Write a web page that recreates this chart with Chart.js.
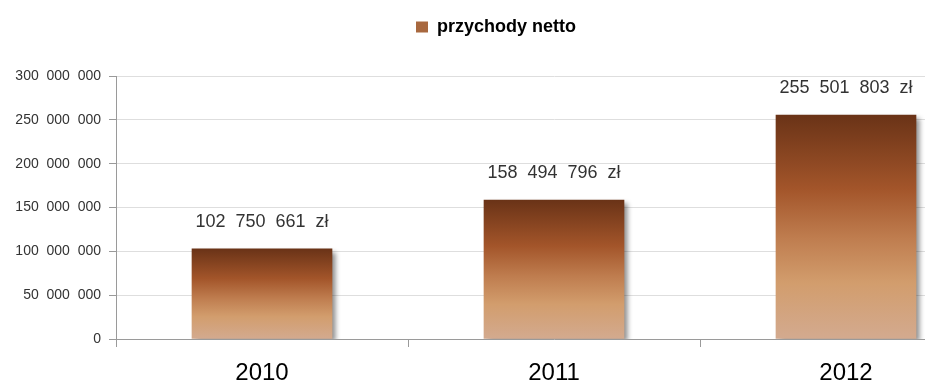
<!DOCTYPE html>
<html>
<head>
<meta charset="utf-8">
<script src="https://cdn.jsdelivr.net/npm/chart.js@4/dist/chart.umd.min.js"></script>
<style>
  html, body { margin: 0; padding: 0; background: #fff; overflow: hidden; }
  #wrap { width: 1000px; height: 387px; }
</style>
</head>
<body>
<div id="wrap"><canvas id="c" width="1000" height="387"></canvas></div>
<script>
const categories = ['2010', '2011', '2012'];
const seriesName = 'przychody netto';
const revenue = [102750661, 158494796, 255501803];
const valueLabels = ['102  750  661  zł', '158  494  796  zł', '255  501  803  zł'];
const yTicks = [0, 50000000, 100000000, 150000000, 200000000, 250000000, 300000000];

function fmt(v) {
  return String(v).replace(/\B(?=(\d{3})+(?!\d))/g, '  ');
}

function barGradient(ctx) {
  const chart = ctx.chart;
  if (!chart.chartArea || ctx.type !== 'data') return '#b06a3c';
  const y = chart.scales.y;
  const top = y.getPixelForValue(ctx.raw);
  const bottom = y.getPixelForValue(0);
  const g = chart.ctx.createLinearGradient(0, top, 0, bottom);
  g.addColorStop(0, '#6a3317');
  g.addColorStop(0.33, '#a3552a');
  g.addColorStop(0.55, '#bf7d4f');
  g.addColorStop(0.75, '#d29d6d');
  g.addColorStop(1, '#d3aa8f');
  return g;
}

const legendGap = {
  id: 'legendGap',
  beforeInit(chart) {
    const lg = chart.legend;
    if (!lg) return;
    const orig = lg.fit;
    lg.fit = function () {
      orig.call(this);
      this.height += 30;
    };
  }
};

const shadowPlugin = {
  id: 'barShadow',
  beforeDatasetsDraw(chart) {
    const c = chart.ctx;
    c.save();
    c.shadowColor = 'rgba(0,0,0,0.45)';
    c.shadowBlur = 5;
    c.shadowOffsetX = 4;
    c.shadowOffsetY = 3;
  },
  afterDatasetsDraw(chart) {
    chart.ctx.restore();
    const c = chart.ctx;
    const meta = chart.getDatasetMeta(0);
    c.save();
    c.font = '18px "Liberation Sans", Arial, sans-serif';
    c.fillStyle = '#333333';
    c.textAlign = 'center';
    c.textBaseline = 'middle';
    meta.data.forEach((bar, i) => {
      c.fillText(valueLabels[i], bar.x, bar.y - 27);
    });
    c.restore();
  }
};

new Chart(document.getElementById('c'), {
  type: 'bar',
  data: {
    labels: categories,
    datasets: [{
      label: seriesName,
      data: revenue,
      backgroundColor: barGradient,
      borderWidth: 0,
      barThickness: 140
    }]
  },
  options: {
    responsive: false,
    animation: false,
    devicePixelRatio: 1,
    layout: { padding: { top: 8, right: 8, left: 0, bottom: 0 } },
    plugins: {
      tooltip: { enabled: false },
      legend: {
        position: 'top',
        labels: {
          color: '#111111',
          font: { family: '"Liberation Sans", Arial, sans-serif', size: 18, weight: 'bold' },
          boxWidth: 12,
          boxHeight: 11,
          padding: 10,
          generateLabels(chart) {
            return [{
              text: seriesName,
              fillStyle: '#a8683f',
              strokeStyle: 'rgba(0,0,0,0)',
              lineWidth: 0,
              datasetIndex: 0
            }];
          }
        }
      }
    },
    scales: {
      x: {
        grid: {
          drawOnChartArea: false,
          drawTicks: true,
          tickLength: 8,
          tickColor: '#9a9a9a',
          offset: true
        },
        border: { color: '#9a9a9a', width: 1 },
        ticks: {
          color: '#000000',
          font: { family: '"Liberation Sans", Arial, sans-serif', size: 24 },
          padding: 12
        },
        afterFit(scale) { scale.height = 48; }
      },
      y: {
        min: 0,
        max: 300000000,
        afterBuildTicks(scale) { scale.ticks = yTicks.map(v => ({ value: v })); },
        grid: {
          color: '#dedede',
          tickColor: '#9a9a9a',
          tickLength: 7,
          drawTicks: true
        },
        border: { color: '#9a9a9a', width: 1 },
        ticks: {
          color: '#333333',
          font: { family: '"Liberation Sans", Arial, sans-serif', size: 14 },
          padding: 8,
          callback: (v) => fmt(v)
        },
        afterFit(scale) { scale.width = 116; }
      }
    }
  },
  plugins: [legendGap, shadowPlugin]
});
</script>
</body>
</html>
